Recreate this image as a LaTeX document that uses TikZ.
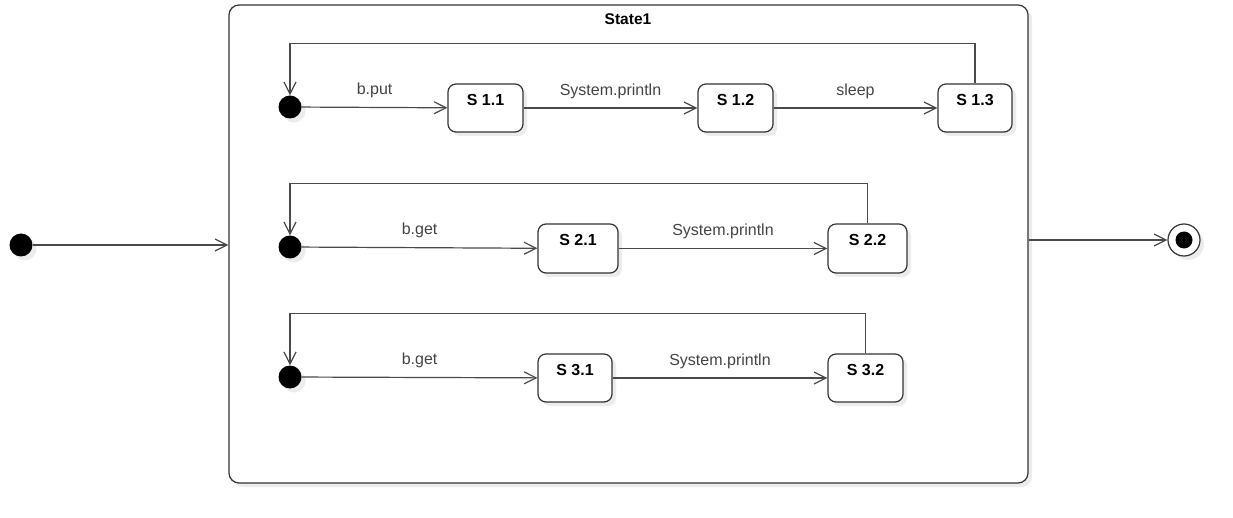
\documentclass[tikz,border=0pt]{standalone}
\usepackage{fontspec}
\setmainfont{Liberation Sans}
\usetikzlibrary{arrows.meta,shadows}
\definecolor{edgec}{HTML}{4A4A4A}
\definecolor{bordc}{HTML}{333333}
\definecolor{txtc}{HTML}{444444}
\definecolor{shadec}{HTML}{ECECEC}
\begin{document}
\begin{tikzpicture}[x=1pt,y=-1pt,
  shd/.style={drop shadow={shadow xshift=4pt,shadow yshift=-4pt,fill=shadec,opacity=1}},
  statebox/.style={draw=bordc, line width=1.2pt, rounded corners=8pt, fill=white, shd,
    minimum height=48pt, inner sep=0pt},
  stxt/.style={font=\fontsize{16}{19}\selectfont\bfseries, text=black},
  initdot/.style={circle, fill=black, minimum size=23pt, inner sep=0pt, shd},
  conn/.style={draw=edgec, line width=1.2pt, -{Straight Barb[length=12pt,width=12pt,line width=1.2pt]}},
  loopc/.style={draw=edgec, line width=1.2pt, -{Straight Barb[length=12pt,width=12pt,line width=1.2pt]}},
  lbl/.style={text=txtc, font=\fontsize{16}{19}\selectfont, inner sep=3pt, above, yshift=6pt}
]
\useasboundingbox (0,0) rectangle (1233,518);

% outer composite state
\node[draw=bordc, line width=1.2pt, rounded corners=10pt, fill=white, shd,
      minimum width=799pt, minimum height=478pt, inner sep=0pt] (state1) at (628.5,244) {};
\node[stxt, font=\fontsize{15.5}{18}\selectfont\bfseries] (title) at (628,19) {State1};

% outer initial and final
\node[initdot] (init) at (21,245) {};
\node[circle, draw=bordc, line width=1.2pt, fill=white, minimum size=32pt, inner sep=0pt, shd] (fin) at (1184,240) {};
\node[circle, fill=black, minimum size=17pt, inner sep=0pt] (finin) at (fin.center) {};
\draw[conn] (init) -- (init -| state1.west);
\draw[conn] (state1.east |- fin) -- (fin);

% row 1
\node[initdot] (d1) at (290,107) {};
\node[statebox, minimum width=75pt, label={[stxt, anchor=north, yshift=-7pt]north:S 1.1}] (s11) at (485.5,108) {};
\node[statebox, minimum width=75pt, label={[stxt, anchor=north, yshift=-7pt]north:S 1.2}] (s12) at (735.5,108) {};
\node[statebox, minimum width=74pt, label={[stxt, anchor=north, yshift=-7pt]north:S 1.3}] (s13) at (975,108) {};
\draw[conn] (d1) -- node[lbl] {b.put} (s11);
\draw[conn] (s11) -- node[lbl] {System.println} (s12);
\draw[conn] (s12) -- node[lbl] {sleep} (s13);
\draw[loopc] (s13.north) -- ++(0,-40) -| (d1.north);

% row 2
\node[initdot] (d2) at (290,247) {};
\node[statebox, minimum width=80pt, minimum height=49pt, label={[stxt, anchor=north, yshift=-7pt]north:S 2.1}] (s21) at (578,248.5) {};
\node[statebox, minimum width=79pt, minimum height=49pt, label={[stxt, anchor=north, yshift=-7pt]north:S 2.2}] (s22) at (867.5,248.5) {};
\draw[conn] (d2) -- node[lbl] {b.get} (s21);
\draw[conn] (s21) -- node[lbl] {System.println} (s22);
\draw[loopc] (s22.north) -- ++(0,-40) -| (d2.north);

% row 3
\node[initdot] (d3) at (290,377) {};
\node[statebox, minimum width=74pt, label={[stxt, anchor=north, yshift=-7pt]north:S 3.1}] (s31) at (575,378) {};
\node[statebox, minimum width=75pt, label={[stxt, anchor=north, yshift=-7pt]north:S 3.2}] (s32) at (865.5,378) {};
\draw[conn] (d3) -- node[lbl] {b.get} (s31);
\draw[conn] (s31) -- node[lbl] {System.println} (s32);
\draw[loopc] (s32.north) -- ++(0,-40) -| (d3.north);
\end{tikzpicture}
\end{document}
